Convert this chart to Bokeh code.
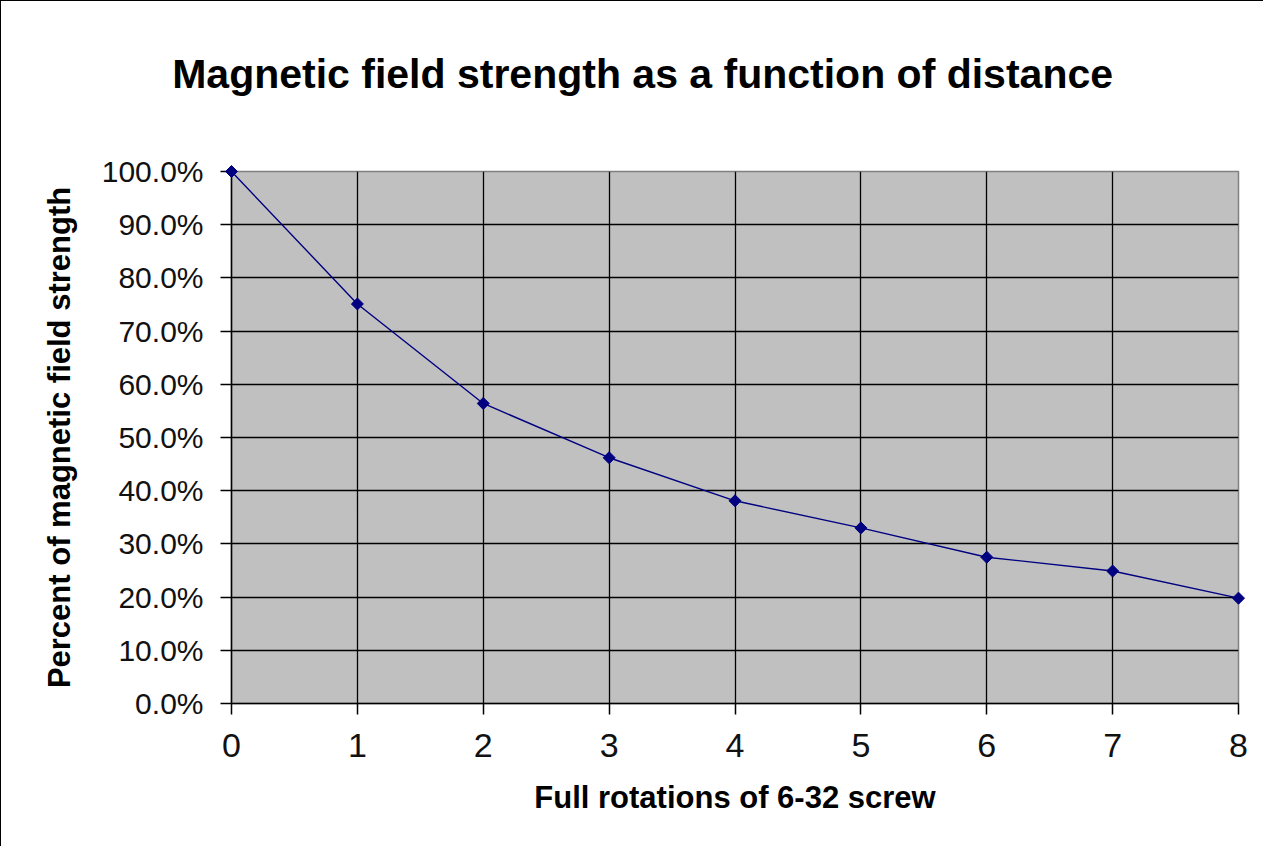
import math
from bokeh.plotting import figure
from bokeh.models import FixedTicker, NumeralTickFormatter, Range1d
from bokeh.core.properties import value
from bokeh.embed import file_html
from bokeh.resources import INLINE

rotations = [0, 1, 2, 3, 4, 5, 6, 7, 8]
strength = [1.000, 0.751, 0.564, 0.462, 0.381, 0.330, 0.275, 0.249, 0.198]
x_ticks = [0, 1, 2, 3, 4, 5, 6, 7, 8]
y_ticks = [0.0, 0.1, 0.2, 0.3, 0.4, 0.5, 0.6, 0.7, 0.8, 0.9, 1.0]
title_text = "Magnetic field strength as a function of distance"

FONT = "Liberation Sans"

p = figure(width=1263, height=846, output_backend="svg", toolbar_location=None,
           x_range=Range1d(0, 8), y_range=Range1d(0, 1),
           min_border_left=230, min_border_right=26, min_border_top=170, min_border_bottom=144)

p.background_fill_color = "#C0C0C0"
p.border_fill_color = "white"
p.outline_line_color = "#808080"
p.outline_line_width = 1.5

p.xaxis.ticker = FixedTicker(ticks=x_ticks)
p.yaxis.ticker = FixedTicker(ticks=y_ticks)
p.yaxis.formatter = NumeralTickFormatter(format="0.0%")

for ax in (p.xaxis[0], p.yaxis[0]):
    ax.axis_line_color = "black"
    ax.axis_line_width = 1.5
    ax.major_tick_line_color = "black"
    ax.major_tick_line_width = 1.5
    ax.major_tick_out = 11
    ax.major_tick_in = 0
    ax.minor_tick_line_color = None
    ax.major_label_text_font = FONT
    ax.major_label_text_color = "#111111"
    ax.axis_label_text_font = FONT
    ax.axis_label_text_font_size = "31px"
    ax.axis_label_text_font_style = "bold"
    ax.axis_label_text_color = "black"

p.xaxis.major_label_text_font_size = "34px"
p.yaxis.major_label_text_font_size = "30px"
p.xaxis.axis_label = "Full rotations of 6-32 screw"
p.yaxis.axis_label = "Percent of magnetic field strength"
p.xaxis.major_label_standoff = 19
p.yaxis.major_label_standoff = 17
p.xaxis.axis_label_standoff = 20
p.yaxis.axis_label_standoff = 22

p.xgrid.ticker = FixedTicker(ticks=x_ticks[1:-1])
p.xgrid.grid_line_color = "black"
p.xgrid.grid_line_width = 1.3
p.ygrid.ticker = FixedTicker(ticks=y_ticks[1:])
p.ygrid.grid_line_color = "black"
p.ygrid.grid_line_width = 1.3

p.line(rotations, strength, line_color="#000080", line_width=1.4)
r = p.scatter(rotations, strength, marker="square", size=8.5, angle=math.pi / 4,
              fill_color="#000080", line_color="#000080")
r.level = "overlay"

# chart title drawn above the plot area (centred over the whole chart, like the original)
t = p.text(x=[3.266], y=[1.184], text=[title_text], text_align="center",
           text_baseline="alphabetic", text_font=value(FONT), text_font_size="41px",
           text_font_style="bold", text_color="black")
t.level = "overlay"

p.styles = {"border-left": "1px solid black", "border-top": "1px solid black"}

open("out.html", "w").write(file_html(p, INLINE))
